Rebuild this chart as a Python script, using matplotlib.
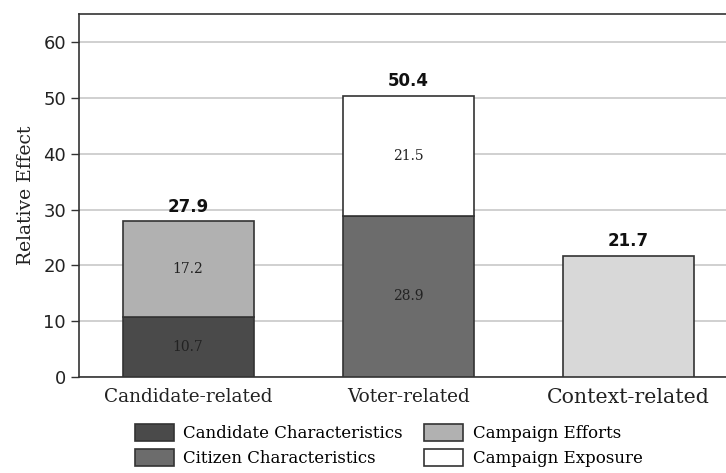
import matplotlib.pyplot as plt
from matplotlib.patches import Patch

# categories and stacked values
groups = ['Candidate-related', 'Voter-related', 'Context-related']
lower = [10.7, 28.9, 21.7]
upper = [17.2, 21.5, 0.0]
totals = [27.9, 50.4, 21.7]

lower_colors = ['#4a4a4a', '#6c6c6c', '#d8d8d8']
upper_colors = ['#b1b1b1', '#ffffff', '#ffffff']

legend_labels = ['Candidate Characteristics', 'Citizen Characteristics',
                 'Campaign Efforts', 'Campaign Exposure']
legend_colors = ['#4a4a4a', '#6c6c6c', '#b1b1b1', '#ffffff']

fig = plt.figure(figsize=(7.26, 4.73), dpi=100)
ax = fig.add_axes([0.109, 0.203, 0.891, 0.767])

x = range(len(groups))
w = 0.595
edge = '#333333'

ax.bar(x, lower, width=w, color=lower_colors, edgecolor=edge, linewidth=1.2, zorder=3)
for i in x:
    if upper[i] > 0:
        ax.bar(i, upper[i], width=w, bottom=lower[i], color=upper_colors[i],
               edgecolor=edge, linewidth=1.2, zorder=3)

# segment labels
for i in x:
    if upper[i] > 0:
        ax.text(i, lower[i] / 2, f'{lower[i]:.1f}', ha='center', va='center',
                fontsize=10, family='DejaVu Serif', color='#222222', zorder=4)
        ax.text(i, lower[i] + upper[i] / 2, f'{upper[i]:.1f}', ha='center', va='center',
                fontsize=10, family='DejaVu Serif', color='#222222', zorder=4)
    ax.text(i, totals[i] + 1.0, f'{totals[i]:.1f}', ha='center', va='bottom',
            fontsize=12, fontweight='bold', color='#111111', zorder=4)

ax.set_ylim(0, 65)
ax.set_xlim(-0.495, 2.445)
ax.set_yticks(range(0, 61, 10))
ax.tick_params(axis='y', labelsize=13, length=6, width=1, color='#333333', labelcolor='#222222')
ax.tick_params(axis='x', length=0, pad=8)
ax.set_xticks(list(x))
ax.set_xticklabels(groups, family='DejaVu Serif', fontsize=13.3, color='#222222')
ax.get_xticklabels()[2].set_fontsize(14.8)
ax.set_ylabel('Relative Effect', family='DejaVu Serif', fontsize=13.5, color='#222222', labelpad=6)

ax.yaxis.grid(True, color='#c8c8c8', linewidth=1.2, zorder=0)
ax.set_axisbelow(True)
for s in ['top', 'left', 'bottom']:
    ax.spines[s].set_color('#333333')
    ax.spines[s].set_linewidth(1.2)
ax.spines['right'].set_visible(False)

handles = [Patch(facecolor=c, edgecolor=edge, linewidth=1.2) for c in legend_colors]
fig.legend(handles, legend_labels, loc='upper left', bbox_to_anchor=(0.174, 0.121),
           ncol=2, frameon=False, prop={'family': 'DejaVu Serif', 'size': 12},
           borderpad=0, handlelength=2.35, handleheight=1.2, columnspacing=1.3,
           labelspacing=0.4, handletextpad=0.55)

fig.savefig('out.png', dpi=100)
